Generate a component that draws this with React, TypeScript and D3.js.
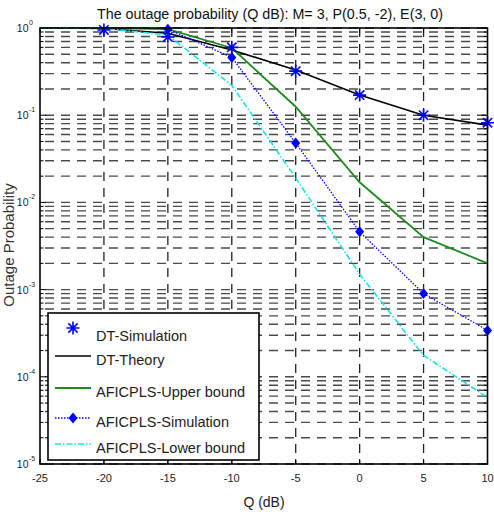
import React from "react";
import * as d3 from "d3";

// values
const qDb = [-25, -20, -15, -10, -5, 0, 5, 10];
const dtSimQ = [-20, -15, -10, -5, 0, 5, 10];
const dtSim = [0.95, 0.79, 0.6, 0.32, 0.17, 0.1, 0.082];
const dtTheory = [1.0, 0.985, 0.87, 0.56, 0.33, 0.17, 0.1, 0.077];
const upperBound = [1.0, 1.0, 0.97, 0.59, 0.125, 0.017, 0.004, 0.002];
const aficSimQ = [-15, -10, -5, 0, 5, 10];
const aficSim = [0.97, 0.46, 0.048, 0.0046, 0.0009, 0.00034];
const lowerBound = [1.0, 0.99, 0.83, 0.22, 0.019, 0.0015, 0.000176, 0.000058];
const xTicks = [-25, -20, -15, -10, -5, 0, 5, 10];
const yExponents = [0, -1, -2, -3, -4, -5];
const legendLabels = [
  "DT-Simulation",
  "DT-Theory",
  "AFICPLS-Upper bound",
  "AFICPLS-Simulation",
  "AFICPLS-Lower bound",
];

const FONT = "'Liberation Sans', Arial, sans-serif";
const BLUE = "#0000ff";
const GREEN = "#1f8a1f";
const CYAN = "#19e3e8";

const star = (x: number, y: number, r: number) => {
  const d = r * 0.72;
  return `M${x - r},${y}L${x + r},${y}M${x},${y - r}L${x},${y + r}` +
    `M${x - d},${y - d}L${x + d},${y + d}M${x - d},${y + d}L${x + d},${y - d}`;
};
const diamond = (x: number, y: number, w: number, h: number) =>
  `M${x},${y - h}L${x + w},${y}L${x},${y + h}L${x - w},${y}Z`;

const App = () => {
  const left = 40;
  const right = 487.5;
  const top = 28;
  const bottom = 464;

  const x = d3.scaleLinear().domain([-25, 10]).range([left, right]);
  const y = d3.scaleLog().domain([1e-5, 1]).range([bottom, top]);

  const line = d3
    .line<[number, number]>()
    .x((d) => x(d[0]))
    .y((d) => y(d[1]));

  const zip = (xs: number[], ys: number[]) =>
    xs.map((q, i) => [q, ys[i]] as [number, number]);

  // 1..9 x 10^k for the dashed log grid
  const gridVals: number[] = [];
  for (let k = -5; k < 0; k++) {
    for (let m = 1; m <= 9; m++) gridVals.push(m * Math.pow(10, k));
  }
  gridVals.push(1);

  const gridDash = "9,7";

  // legend rows (line y inside legend box)
  const legX = 48;
  const legY = 313;
  const rowY = [15, 43, 75, 105, 131];

  return (
    <svg
      width={494}
      height={517}
      style={{ position: "absolute", left: 0, top: 0, background: "#fff" }}
      fontFamily={FONT}
    >
      <rect width={494} height={517} fill="#fff" />

      {/* grid */}
      <g strokeDasharray={gridDash}>
        {gridVals.map((v) => (
          <line
            key={v}
            x1={left + 5}
            x2={right}
            y1={y(v)}
            y2={y(v)}
            stroke="#4a4a4a"
            strokeWidth={1.4}
          />
        ))}
        {xTicks.slice(1, -1).map((t) => (
          <line
            key={t}
            x1={x(t)}
            x2={x(t)}
            y1={top}
            y2={bottom}
            stroke="#222"
            strokeWidth={1.3}
          />
        ))}
      </g>

      {/* ticks */}
      <g stroke="#000" strokeWidth={1}>
        {gridVals.map((v) => {
          const len = Number.isInteger(Math.log10(v)) ? 6 : 3.5;
          return (
            <g key={v}>
              <line x1={left} x2={left + len} y1={y(v)} y2={y(v)} />
              <line x1={right} x2={right - len} y1={y(v)} y2={y(v)} />
            </g>
          );
        })}
        {xTicks.map((t) => (
          <g key={t}>
            <line x1={x(t)} x2={x(t)} y1={bottom} y2={bottom - 5} />
            <line x1={x(t)} x2={x(t)} y1={top} y2={top + 5} />
          </g>
        ))}
      </g>

      {/* curves */}
      <path d={line(zip(qDb, dtTheory)) || ""} fill="none" stroke="#000" strokeWidth={1.6} />
      <path d={line(zip(qDb, upperBound)) || ""} fill="none" stroke={GREEN} strokeWidth={1.8} />
      <path
        d={line(zip(aficSimQ, aficSim)) || ""}
        fill="none"
        stroke={BLUE}
        strokeWidth={1.3}
        strokeDasharray="1.5,1.5"
      />
      <path
        d={line(zip(qDb, lowerBound)) || ""}
        fill="none"
        stroke={CYAN}
        strokeWidth={1.6}
        strokeDasharray="6,2,1.5,2"
      />
      {aficSimQ.map((q, i) => (
        <path key={q} d={diamond(x(q), y(aficSim[i]), 4.5, 5.5)} fill={BLUE} />
      ))}
      {dtSimQ.map((q, i) => (
        <path key={q} d={star(x(q), y(dtSim[i]), 6.5)} stroke={BLUE} strokeWidth={1.6} fill="none" />
      ))}

      {/* axes box */}
      <rect
        x={left}
        y={top}
        width={right - left}
        height={bottom - top}
        fill="none"
        stroke="#000"
        strokeWidth={1.6}
      />

      {/* tick labels */}
      <g fill="#222">
        {xTicks.map((t) => (
          <text key={t} x={x(t)} y={482} textAnchor="middle" fontSize={11}>
            {t}
          </text>
        ))}
        {yExponents.map((e) => (
          <g key={e}>
            <text x={28.5} y={y(Math.pow(10, e)) + 4} textAnchor="end" fontSize={10.5}>
              10
            </text>
            <text x={29} y={y(Math.pow(10, e)) - 3} fontSize={7}>
              {e}
            </text>
          </g>
        ))}
      </g>

      {/* titles */}
      <text
        x={270}
        y={19}
        textAnchor="middle"
        fontSize={14}
        fill="#111"
        textLength={346}
        lengthAdjust="spacingAndGlyphs"
      >
        The outage probability (Q dB): M= 3, P(0.5, -2), E(3, 0)
      </text>
      <text x={264} y={507} textAnchor="middle" fontSize={14} fill="#222">
        Q (dB)
      </text>
      <text
        transform="translate(13.5,245) rotate(-90)"
        textAnchor="middle"
        fontSize={15}
        fill="#333"
      >
        Outage Probability
      </text>

      {/* legend */}
      <g transform={`translate(${legX},${legY})`}>
        <rect width={211} height={147} fill="#fff" stroke="#000" strokeWidth={1.6} />
        <path d={star(25, rowY[0], 6.5)} stroke={BLUE} strokeWidth={1.6} fill="none" />
        <line x1={7} x2={43} y1={rowY[1]} y2={rowY[1]} stroke="#000" strokeWidth={1.6} />
        <line x1={7} x2={43} y1={rowY[2]} y2={rowY[2]} stroke={GREEN} strokeWidth={1.8} />
        <line
          x1={7}
          x2={43}
          y1={rowY[3]}
          y2={rowY[3]}
          stroke={BLUE}
          strokeWidth={1.3}
          strokeDasharray="1.5,1.5"
        />
        <path d={diamond(25, rowY[3], 4.5, 5.5)} fill={BLUE} />
        <line
          x1={7}
          x2={43}
          y1={rowY[4]}
          y2={rowY[4]}
          stroke={CYAN}
          strokeWidth={1.6}
          strokeDasharray="6,2,1.5,2"
        />
        {legendLabels.map((l, i) => (
          <text key={l} x={48} y={rowY[i] + (i === 0 ? 13 : 8.5)} fontSize={14.5} fill="#222">
            {l}
          </text>
        ))}
      </g>
    </svg>
  );
};

export default App;
